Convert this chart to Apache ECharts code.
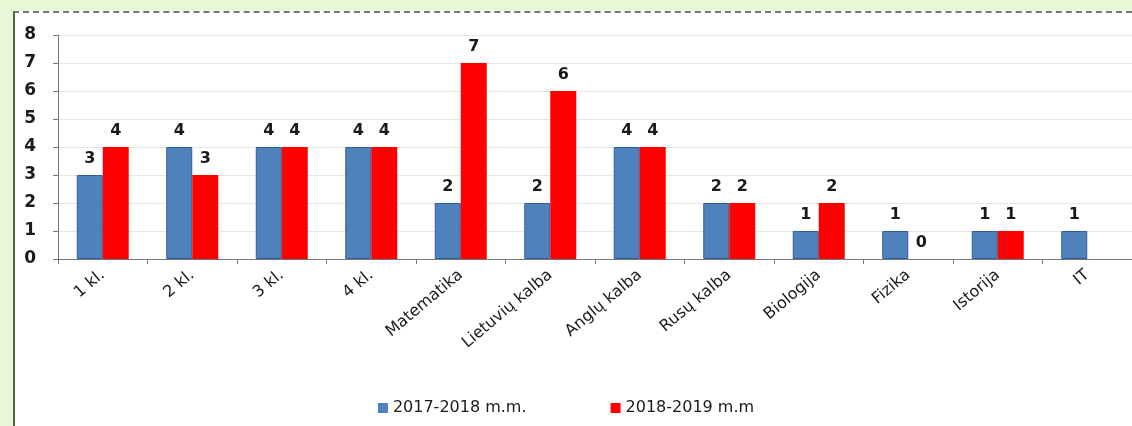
<!DOCTYPE html>
<html>
<head>
<meta charset="utf-8">
<script src="https://cdn.jsdelivr.net/npm/echarts@6/dist/echarts.min.js"></script>
<style>
  html, body { margin: 0; padding: 0; }
  body { width: 1132px; height: 426px; background: #e9f7d6; position: relative; overflow: hidden; }
  #panel { position: absolute; left: 13px; top: 11px; right: 0; bottom: 0; background: #fff;
           border-left: 2px solid #4f6b3f; border-top: 2px dashed #777; }
  #chart { position: absolute; left: 0; top: 0; width: 1132px; height: 426px; }
</style>
</head>
<body>
<div id="panel"></div>
<div id="chart"></div>
<script>
  var categories = ['1 kl.', '2 kl.', '3 kl.', '4 kl.', 'Matematika', 'Lietuvių kalba', 'Anglų kalba', 'Rusų kalba', 'Biologija', 'Fizika', 'Istorija', 'IT'];
  var seriesNames = ['2017-2018 m.m.', '2018-2019 m.m'];
  var values2017 = [3, 4, 4, 4, 2, 2, 4, 2, 1, 1, 1, 1];
  var values2018 = [4, 3, 4, 4, 7, 6, 4, 2, 2, 0, 1, null];
  var yTicks = [0, 1, 2, 3, 4, 5, 6, 7, 8];

  var myChart = echarts.init(document.getElementById('chart'));
  var font = 'DejaVu Sans, Verdana, sans-serif';

  var option = {
    backgroundColor: 'transparent',
    textStyle: { fontFamily: font },
    grid: { left: 58, top: 35, width: 1080, height: 224 },
    legend: {
      bottom: 5,
      left: 'center',
      itemWidth: 10,
      itemHeight: 10,
      itemGap: 84,
      icon: 'rect',
      itemStyle: { borderWidth: 0 },
      data: seriesNames,
      textStyle: { color: '#1a1a1a', fontSize: 16, fontFamily: font }
    },
    xAxis: {
      type: 'category',
      data: categories,
      axisLine: { lineStyle: { color: '#777' } },
      axisTick: { show: true, length: 5, lineStyle: { color: '#777' } },
      axisLabel: { rotate: 40, margin: 14, color: '#1a1a1a', fontSize: 16, interval: 0 }
    },
    yAxis: {
      type: 'value',
      min: yTicks[0],
      max: yTicks[yTicks.length - 1],
      interval: 1,
      axisLine: { show: true, lineStyle: { color: '#777' } },
      axisTick: { show: true, length: 5, lineStyle: { color: '#777' } },
      axisLabel: { color: '#1a1a1a', fontSize: 17, fontWeight: 'bold', margin: 22 },
      splitLine: { lineStyle: { color: '#e6e6e6' } }
    },
    series: [{
      name: seriesNames[0],
      type: 'bar',
      barWidth: 26,
      barGap: '0%',
      itemStyle: { color: '#4f81bd', borderColor: '#2f5f99', borderWidth: 1 },
      label: { show: true, position: 'top', distance: 8, color: '#1a1a1a', fontSize: 16, fontWeight: 'bold' },
      data: values2017
    }, {
      name: seriesNames[1],
      type: 'bar',
      barWidth: 26,
      barGap: '0%',
      itemStyle: { color: '#ff0000' },
      label: { show: true, position: 'top', distance: 8, color: '#1a1a1a', fontSize: 16, fontWeight: 'bold' },
      data: values2018
    }]
  };
  myChart.setOption(option);
</script>
</body>
</html>
